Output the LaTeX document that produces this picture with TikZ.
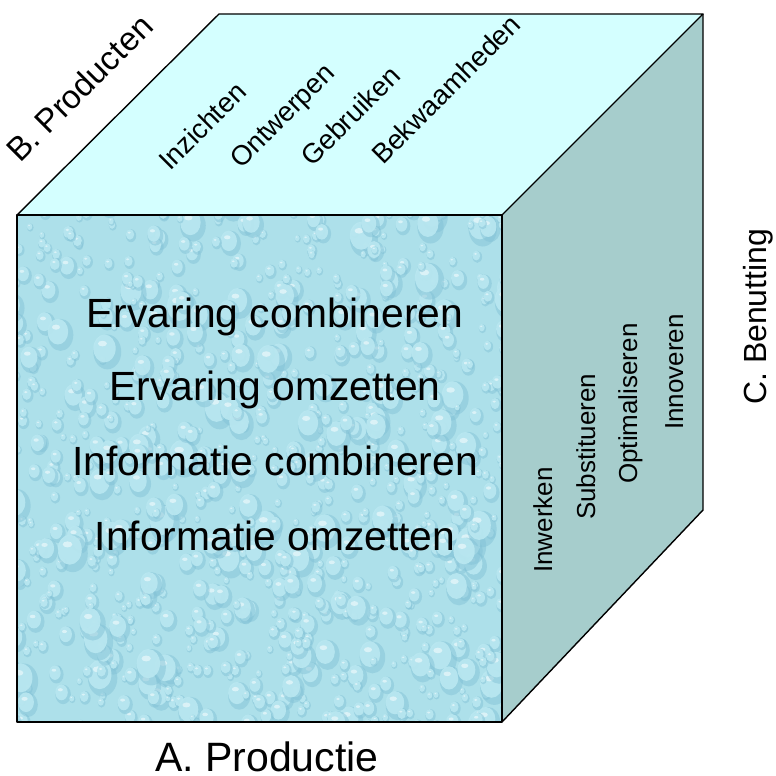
\documentclass[tikz,border=0pt]{standalone}
\usepackage{fontspec}
\setmainfont{Liberation Sans}
\definecolor{topface}{HTML}{D4FFFF}
\definecolor{sideface}{HTML}{A6CDCC}
\definecolor{frontbase}{HTML}{ADE0EA}
\definecolor{droprim}{HTML}{84C3D7}
\definecolor{dropbody}{HTML}{BAE8F1}
\begin{document}
\begin{tikzpicture}[x=1pt,y=-1pt,
  edge/.style={draw=black, line width=1.4pt, line join=round},
  frontlabel/.style={font=\fontsize{40.8}{48}\selectfont, inner sep=0pt, anchor=base},
  toplabel/.style={font=\fontsize{27.5}{32}\selectfont, inner sep=0pt, anchor=base west, rotate=45},
  sidelabel/.style={font=\fontsize{26}{30}\selectfont, inner sep=0pt, anchor=base west, rotate=90},
  axislabel/.style={inner sep=0pt, anchor=base west}]
\useasboundingbox (0,0) rectangle (776,776);

% cube corners
\coordinate (FTL) at (17,215);
\coordinate (FTR) at (502,215);
\coordinate (FBR) at (502,722);
\coordinate (FBL) at (17,722);
\coordinate (BTL) at (219,14);
\coordinate (BTR) at (703,14);
\coordinate (BBR) at (703,510);

% top and right faces
\fill[topface] (FTL) -- (BTL) -- (BTR) -- (FTR) -- cycle;
\fill[sideface] (FTR) -- (BTR) -- (BBR) -- (FBR) -- cycle;

% front face with a water-drop texture
\begin{scope}
  \clip (FTL) -- (FTR) -- (FBR) -- (FBL) -- cycle;
  \fill[frontbase] (FTL) -- (FTR) -- (FBR) -- (FBL) -- cycle;
  \pgfmathsetseed{4}
  \foreach \k in {1,...,900}{
    \pgfmathsetmacro{\px}{5+rnd*510}
    \pgfmathsetmacro{\py}{203+rnd*530}
    \pgfmathsetmacro{\rr}{3+13*rnd*rnd}
    \fill[droprim, opacity=0.5] (\px,\py) ellipse [x radius=\rr, y radius=1.25*\rr];
    \fill[dropbody, opacity=0.9] (\px-0.2*\rr,\py-0.25*\rr) ellipse [x radius=0.8*\rr, y radius=1.0*\rr];
    \fill[white, opacity=0.5] (\px-0.35*\rr,\py-0.6*\rr) ellipse [x radius=0.32*\rr, y radius=0.2*\rr];
  }
\end{scope}

% cube edges
\draw[edge] (FTL) -- (FTR) -- (FBR) -- (FBL) -- cycle;
\draw[edge] (FTL) -- (BTL) -- (BTR) -- (FTR);
\draw[edge] (BTR) -- (BBR) -- (FBR);

% front face texts
\node[frontlabel] (f1) at (275,327) {Ervaring combineren};
\node[frontlabel] (f2) at (275,400) {Ervaring omzetten};
\node[frontlabel] (f3) at (275,475) {Informatie combineren};
\node[frontlabel] (f4) at (275,550) {Informatie omzetten};

% top face texts
\node[toplabel] (t1) at (170,172) {Inzichten};
\node[toplabel] (t2) at (241,170) {Ontwerpen};
\node[toplabel] (t3) at (312,168) {Gebruiken};
\node[toplabel] (t4) at (383,166) {Bekwaamheden};

% right face texts
\node[sidelabel] (s1) at (552,573) {Inwerken};
\node[sidelabel] (s2) at (595,520) {Substitueren};
\node[sidelabel] (s3) at (637,484) {Optimaliseren};
\node[sidelabel] (s4) at (683,430) {Innoveren};

% axis names
\node[axislabel, font=\fontsize{41}{48}\selectfont] (axA) at (155,771) {A. Productie};
\node[axislabel, font=\fontsize{33}{38}\selectfont, rotate=45] (axB) at (20,164) {B. Producten};
\node[axislabel, font=\fontsize{32}{38}\selectfont, rotate=90] (axC) at (766,405) {C. Benutting};
\end{tikzpicture}
\end{document}
